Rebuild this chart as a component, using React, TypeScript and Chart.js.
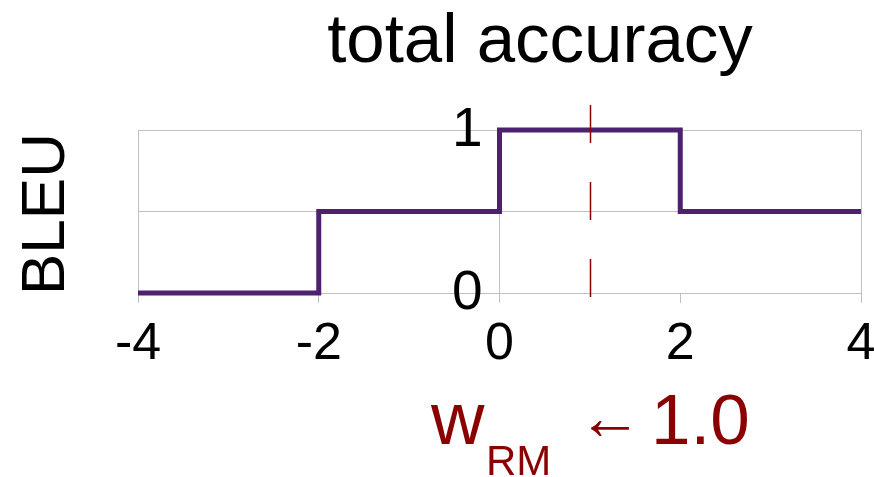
import React, { useEffect, useRef } from "react";
import { Chart, registerables } from "chart.js";

Chart.register(...registerables);

// ---- data ----
const stepX: number[] = [-4, -2, 0, 2, 4];
const stepY: number[] = [0, 0.5, 1, 0.5, 0.5];
const xTickValues: number[] = [-4, -2, 0, 2, 4];
const xGridLineValues: number[] = [-4, 0, 4];
const yTickValues: number[] = [0, 0.5, 1];
const yTickLabels: string[] = ["0", "", "1"];
const markerX = 1;
const titleText = "total accuracy";
const yTitleText = "BLEU";
const bottomMain = "w";
const bottomSub = "RM";
const bottomArrow = "←";
const bottomValue = "1.0";

const FONT = "'Liberation Sans', Arial, sans-serif";
const PURPLE = "rgb(78,32,112)";
const DARKRED = "#8b0000";
const GRID = "#c0c0c0";

const overlayPlugin = {
  id: "overlay",
  afterDatasetsDraw(chart: any) {
    const { ctx, chartArea, scales } = chart;
    const xs = scales.x;
    const ys = scales.y;
    ctx.save();
    const mx = Math.round(xs.getPixelForValue(markerX)) + 0.5;
    ctx.strokeStyle = DARKRED;
    ctx.lineWidth = 1.5;
    ctx.setLineDash([38, 39]);
    ctx.beginPath();
    ctx.moveTo(mx, chartArea.top - 25);
    ctx.lineTo(mx, chartArea.bottom + 4);
    ctx.stroke();
    ctx.setLineDash([]);

    ctx.fillStyle = "#000";
    ctx.font = `55px ${FONT}`;
    ctx.textAlign = "right";
    ctx.textBaseline = "middle";
    const ax = xs.getPixelForValue(0);
    yTickValues.forEach((v, i) => {
      const lab = yTickLabels[i];
      if (lab) ctx.fillText(lab, ax - 17, ys.getPixelForValue(v) + 1);
    });
    ctx.restore();
  },
  afterDraw(chart: any) {
    const { ctx } = chart;
    ctx.save();
    ctx.fillStyle = "#000";
    ctx.font = `69px ${FONT}`;
    ctx.textAlign = "center";
    ctx.textBaseline = "alphabetic";
    ctx.fillText(titleText, 540, 62);

    ctx.save();
    ctx.translate(64, 214);
    ctx.rotate(-Math.PI / 2);
    ctx.font = `62px ${FONT}`;
    ctx.textAlign = "center";
    ctx.textBaseline = "alphabetic";
    ctx.fillText(yTitleText, 0, 0);
    ctx.restore();

    ctx.fillStyle = DARKRED;
    ctx.textAlign = "left";
    ctx.textBaseline = "alphabetic";
    ctx.font = `74px ${FONT}`;
    ctx.fillText(bottomMain, 431, 444);
    ctx.font = `42px ${FONT}`;
    ctx.fillText(bottomSub, 486, 475);
    ctx.font = `64px ${FONT}`;
    ctx.textAlign = "center";
    ctx.textBaseline = "middle";
    ctx.fillText(bottomArrow, 610, 421);
    ctx.textAlign = "left";
    ctx.textBaseline = "alphabetic";
    ctx.font = `71px ${FONT}`;
    ctx.fillText(bottomValue, 651, 444);
    ctx.restore();
  },
};

export default function App() {
  const ref = useRef<HTMLCanvasElement | null>(null);
  useEffect(() => {
    if (!ref.current) return;
    const chart = new Chart(ref.current, {
      type: "line",
      data: {
        datasets: [
          {
            data: stepX.map((x, i) => ({ x, y: stepY[i] })),
            borderColor: PURPLE,
            borderWidth: 5,
            stepped: "before",
            pointRadius: 0,
            fill: false,
            clip: false as any,
            borderJoinStyle: "miter",
            borderCapStyle: "butt",
          },
        ],
      },
      options: {
        animation: false,
        responsive: false,
        devicePixelRatio: 1,
        layout: { padding: { left: 138, right: 13, top: 130, bottom: 91.6 } },
        plugins: { legend: { display: false }, tooltip: { enabled: false }, title: { display: false } },
        scales: {
          x: {
            type: "linear",
            min: -4,
            max: 4,
            afterBuildTicks: (s: any) => {
              s.ticks = xTickValues.map((v) => ({ value: v }));
            },
            afterFit: (s: any) => {
              s.paddingLeft = 0;
              s.paddingRight = 0;
            },
            ticks: {
              color: "#000",
              font: { size: 52, family: FONT },
              padding: 10,
              maxRotation: 0,
              autoSkip: false,
              callback: (v: any) => String(v),
            },
            grid: {
              color: (c: any) => (xGridLineValues.includes(c.tick?.value) ? GRID : "rgba(0,0,0,0)"),
              tickColor: GRID,
              tickLength: 10,
              lineWidth: 1,
            },
            border: { display: true, color: GRID },
          },
          y: {
            type: "linear",
            min: 0,
            max: 1,
            afterBuildTicks: (s: any) => {
              s.ticks = yTickValues.map((v) => ({ value: v }));
            },
            ticks: { display: false },
            grid: { color: GRID, drawTicks: false, lineWidth: 1 },
            border: { display: true, color: GRID },
          },
        },
      },
      plugins: [overlayPlugin],
    });
    return () => chart.destroy();
  }, []);
  return (
    <div style={{ position: "absolute", left: 0, top: 0, width: 874, height: 477, background: "#fff" }}>
      <canvas ref={ref} width={874} height={477} style={{ display: "block" }} />
    </div>
  );
}
